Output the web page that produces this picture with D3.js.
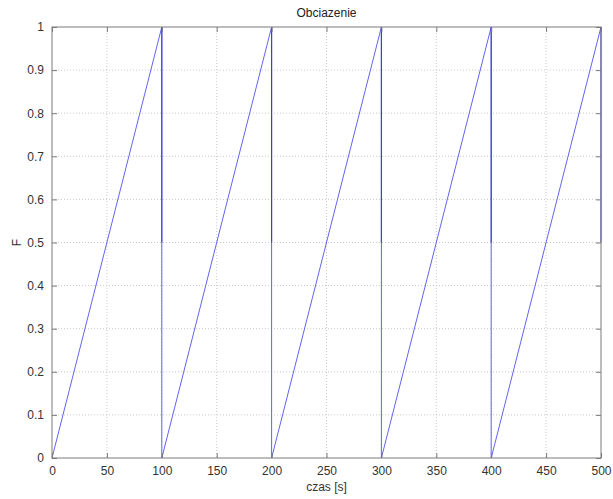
<!DOCTYPE html>
<html>
<head>
<meta charset="utf-8">
<script src="https://cdn.jsdelivr.net/npm/d3@7"></script>
<style>
  body { margin: 0; background: #fff; }
  svg { display: block; font-family: "Liberation Sans", Arial, sans-serif; }
  .grid line { stroke: #c8c8c8; stroke-dasharray: 1,2; }
  .axis path, .axis line { stroke: #7a7a7a; }
  .axis text { fill: #333; font-size: 12px; }
</style>
</head>
<body>
<div id="chart"></div>
<script>
// sawtooth samples: time [s], force F
const timeValues = [0, 100, 100, 200, 200, 300, 300, 400, 400, 500];
const forceValues = [0, 1, 0, 1, 0, 1, 0, 1, 0, 1];
// short vertical strokes at the resets (drawn twice in the original)
const resetTimes = [100, 200, 300, 400, 500];
const resetFrom = 0.5;
const resetTo = 1;

const xTicks = [0, 50, 100, 150, 200, 250, 300, 350, 400, 450, 500];
const yTicks = [0, 0.1, 0.2, 0.3, 0.4, 0.5, 0.6, 0.7, 0.8, 0.9, 1];

const margin = { top: 27, right: 12, bottom: 41, left: 52 };
const width = 613 - margin.left - margin.right;
const height = 499 - margin.top - margin.bottom;

const svg = d3.select("#chart")
    .append("svg")
    .attr("width", 613)
    .attr("height", 499);

const g = svg.append("g")
    .attr("transform", `translate(${margin.left},${margin.top})`);

const x = d3.scaleLinear().domain([0, 500]).range([0, width]);
const y = d3.scaleLinear().domain([0, 1]).range([height, 0]);

// grid
g.append("g")
    .attr("class", "grid")
    .selectAll("line")
    .data(xTicks.slice(1, -1))
    .enter()
    .append("line")
    .attr("x1", d => x(d)).attr("x2", d => x(d))
    .attr("y1", 0).attr("y2", height);

g.append("g")
    .attr("class", "grid")
    .selectAll("line")
    .data(yTicks.slice(1, -1))
    .enter()
    .append("line")
    .attr("y1", d => y(d)).attr("y2", d => y(d))
    .attr("x1", 0).attr("x2", width);

// data line
const points = timeValues.map((t, i) => [t, forceValues[i]]);
const line = d3.line().x(d => x(d[0])).y(d => y(d[1]));

g.append("path")
    .datum(points)
    .attr("fill", "none")
    .attr("stroke", "#6464ee")
    .attr("stroke-width", 1)
    .attr("d", line);

g.selectAll(".reset")
    .data(resetTimes)
    .enter()
    .append("line")
    .attr("class", "reset")
    .attr("x1", d => x(d)).attr("x2", d => x(d))
    .attr("y1", y(resetFrom)).attr("y2", y(resetTo))
    .attr("stroke", "#3c3cd8")
    .attr("stroke-width", 1.1);

// axes (MATLAB style: inner ticks on all sides)
const tickLen = 5;
g.append("g")
    .attr("class", "axis")
    .attr("transform", `translate(0,${height})`)
    .call(d3.axisBottom(x).tickValues(xTicks).tickSizeInner(-tickLen).tickSizeOuter(0).tickPadding(8))
    .call(a => a.select(".domain").remove());

g.append("g")
    .attr("class", "axis")
    .call(d3.axisTop(x).tickValues(xTicks).tickSizeInner(-tickLen).tickSizeOuter(0).tickFormat(""))
    .call(a => a.select(".domain").remove());

g.append("g")
    .attr("class", "axis")
    .call(d3.axisLeft(y).tickValues(yTicks).tickSizeInner(-tickLen).tickSizeOuter(0).tickPadding(8).tickFormat(d3.format("~g")))
    .call(a => a.select(".domain").remove());

g.append("g")
    .attr("class", "axis")
    .attr("transform", `translate(${width},0)`)
    .call(d3.axisRight(y).tickValues(yTicks).tickSizeInner(-tickLen).tickSizeOuter(0).tickFormat(""))
    .call(a => a.select(".domain").remove());

g.append("rect")
    .attr("width", width)
    .attr("height", height)
    .attr("fill", "none")
    .attr("stroke", "#7a7a7a")
    .attr("stroke-width", 1);

// labels
svg.append("text")
    .attr("x", margin.left + width / 2)
    .attr("y", 17)
    .attr("text-anchor", "middle")
    .attr("font-size", 12)
    .attr("fill", "#222")
    .text("Obciazenie");

svg.append("text")
    .attr("x", margin.left + width / 2)
    .attr("y", 491)
    .attr("text-anchor", "middle")
    .attr("font-size", 12)
    .attr("fill", "#333")
    .text("czas [s]");

svg.append("text")
    .attr("transform", `translate(21,${margin.top + height / 2}) rotate(-90)`)
    .attr("text-anchor", "middle")
    .attr("font-size", 12)
    .attr("fill", "#333")
    .text("F");
</script>
</body>
</html>
